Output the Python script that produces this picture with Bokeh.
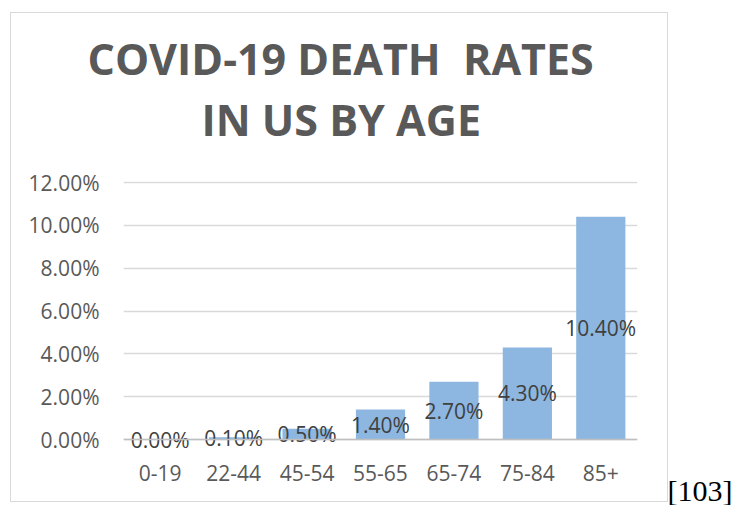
from bokeh.plotting import figure
from bokeh.models import (ColumnDataSource, FactorRange, Range1d, FixedTicker,
                          NumeralTickFormatter, LabelSet, Span, Title,
                          InlineStyleSheet)
from bokeh.core.properties import value
from bokeh.embed import file_html
from bokeh.resources import INLINE

title_lines = ["COVID-19 DEATH  RATES", "IN US BY AGE"]
ages = ["0-19", "22-44", "45-54", "55-65", "65-74", "75-84", "85+"]
rates = [0.0, 0.001, 0.005, 0.014, 0.027, 0.043, 0.104]
y_ticks = [0.0, 0.02, 0.04, 0.06, 0.08, 0.10, 0.12]
source_note = "[103]"

W, H = 734, 505
FONT = "Open Sans"
FL, FR, FT, FB = 123, 637, 181, 452   # frame edges in canvas pixels
ZERO_PX = 439                          # canvas y of the 0% baseline
Y_TOP = 0.1205
PER_PX = Y_TOP / (ZERO_PX - FT)
Y_BOTTOM = -(FB - ZERO_PX) * PER_PX

src = ColumnDataSource(dict(
    age=ages,
    rate=rates,
    mid=[r / 2 for r in rates],
    lab=[f"{r * 100:.2f}%" for r in rates],
))

box_css = InlineStyleSheet(css="""
:host::after {
  content: '';
  position: absolute;
  left: 10px; top: 12px;
  width: 656px; height: 488px;
  border: 1.5px solid #D9D9D9;
  pointer-events: none;
}
""")

p = figure(width=W, height=H, output_backend="svg", toolbar_location=None,
           x_range=FactorRange(*ages), y_range=Range1d(Y_BOTTOM, Y_TOP),
           min_border_left=FL, min_border_right=W - FR,
           min_border_top=FT, min_border_bottom=H - FB,
           stylesheets=[box_css])
p.outline_line_color = None
p.background_fill_color = "white"
p.border_fill_color = "white"

p.vbar(x="age", top="rate", bottom=0, width=0.67, source=src,
       fill_color="#8DB7E0", line_color=None)

p.add_layout(LabelSet(x="age", y="mid", text="lab", source=src,
                      text_align="center", text_baseline="middle",
                      text_font=value(FONT), text_font_size=value("21px"),
                      text_color="#404040", level="glyph"))

p.add_layout(Span(location=0, dimension="width", line_color="#BFBFBF",
                  line_width=1.5, level="overlay"))

# axes
p.yaxis.ticker = FixedTicker(ticks=y_ticks)
p.yaxis.formatter = NumeralTickFormatter(format="0.00%")
p.yaxis.axis_line_color = None
p.yaxis.major_tick_line_color = None
p.yaxis.minor_tick_line_color = None
p.yaxis.major_label_standoff = 18
p.yaxis.major_label_text_font = FONT
p.yaxis.major_label_text_font_size = "21px"
p.yaxis.major_label_text_color = "#595959"

p.xaxis.axis_line_color = None
p.xaxis.major_tick_line_color = None
p.xaxis.minor_tick_line_color = None
p.xaxis.major_tick_out = 0
p.xaxis.major_tick_in = 0
p.xaxis.major_label_standoff = 12
p.xaxis.major_label_text_font = FONT
p.xaxis.major_label_text_font_size = "21px"
p.xaxis.major_label_text_color = "#595959"

p.xgrid.grid_line_color = None
p.ygrid.ticker = FixedTicker(ticks=y_ticks)
p.ygrid.grid_line_color = "#D9D9D9"
p.ygrid.grid_line_width = 1.5

# title: spacer nearest the frame, then line 2, then line 1
TSTYLE = dict(text_font=FONT, text_font_style="bold", text_font_size="43px",
              text_color="#595959")
p.add_layout(Title(text="\u00a0", text_font_size="10px", standoff=20), "above")
p.add_layout(Title(text=title_lines[1].replace("  ", " \u00a0"), align="left",
                   offset=78, standoff=0, **TSTYLE), "above")
p.add_layout(Title(text=title_lines[0].replace("  ", " \u00a0"), align="left",
                   offset=-36, standoff=0, **TSTYLE), "above")

p.add_layout(Title(text=source_note, align="right", offset=-95, standoff=-23,
                   text_font="Liberation Serif", text_font_style="normal",
                   text_font_size="30px", text_color="#000000"), "below")

open("out.html", "w").write(file_html(p, INLINE))
